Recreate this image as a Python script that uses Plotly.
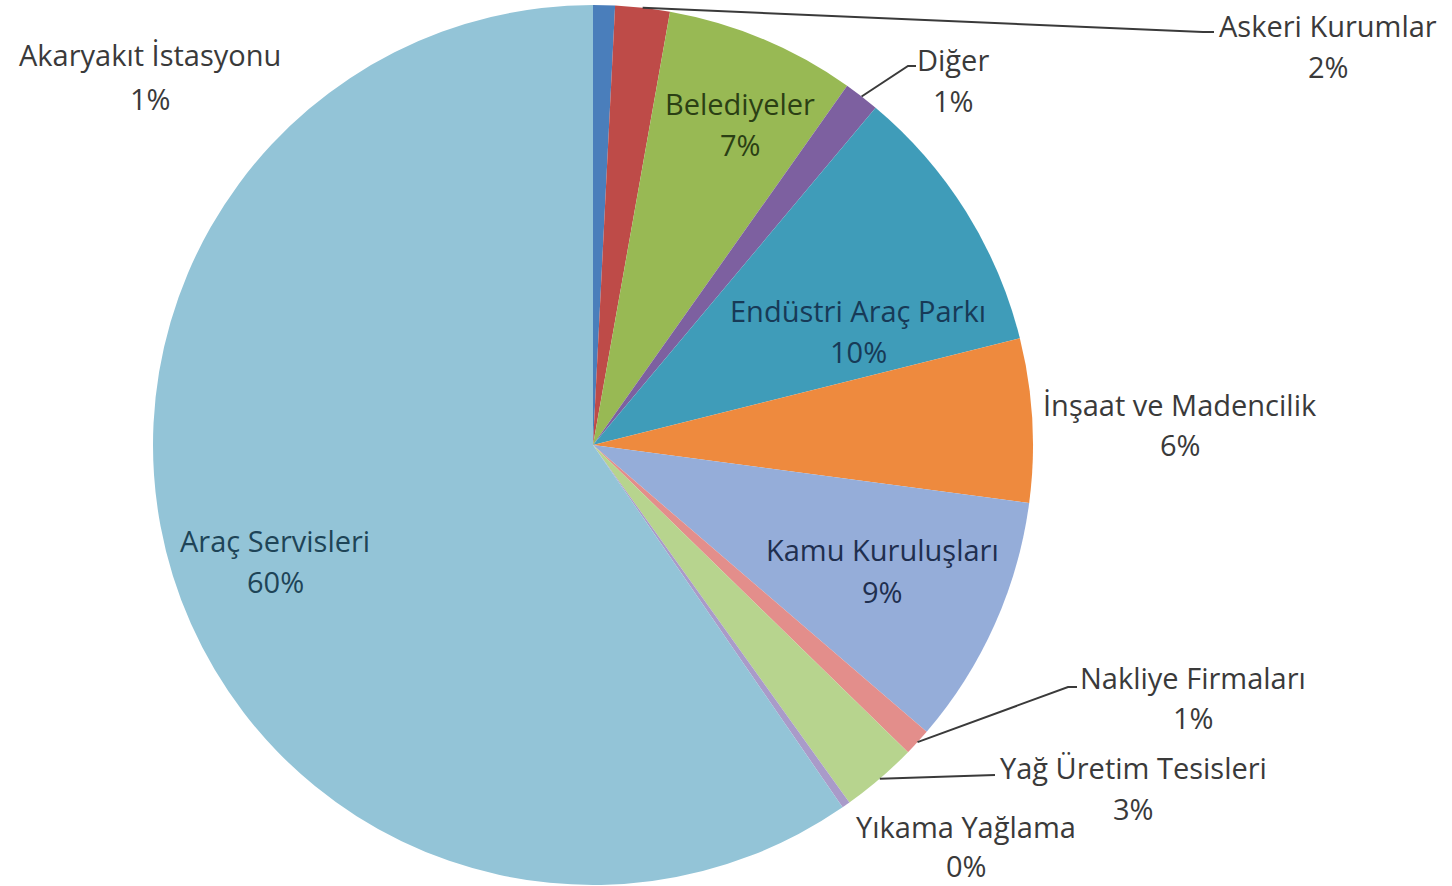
import math
import plotly.graph_objects as go

# ---- data ----
labels = ["Akaryakıt İstasyonu", "Askeri Kurumlar", "Belediyeler", "Diğer",
          "Endüstri Araç Parkı", "İnşaat ve Madencilik", "Kamu Kuruluşları",
          "Nakliye Firmaları", "Yağ Üretim Tesisleri", "Yıkama Yağlama",
          "Araç Servisleri"]
values = [0.8, 2.0, 7.0, 1.3, 10.0, 6.0, 9.2, 1.0, 2.8, 0.3, 59.6]
colors = ["#4A7EBB", "#BE4B48", "#98B954", "#7D60A0", "#3F9CB9", "#EE8A3E",
          "#95ADD9", "#E38E8B", "#B7D48E", "#A99BC9", "#93C4D7"]

# ---- layout (pixels) ----
W, H = 1452, 886
CX, CY, R = 593, 445, 440
# label block centre x, name-line y, percent-line y
label_pos = [(150, 55, 98), (1328, 25, 66), (740, 103, 144), (953, 60, 101),
             (858, 310, 351), (1180, 404, 445), (883, 549, 591),
             (1193, 677, 717), (1133, 767, 808), (966, 826, 865),
             (275, 540, 581)]
text_colors = ["#3a3a3a", "#3a3a3a", "#2B3F14", "#3a3a3a", "#173A57", "#3a3a3a",
               "#1F2F4F", "#3a3a3a", "#3a3a3a", "#3a3a3a", "#1E4457"]
# leader lines: slice index -> path points after the slice edge
leaders = {1: [(1203, 32), (1214, 32)],
           3: [(908, 66), (916, 66)],
           7: [(1068, 687), (1077, 687)],
           8: [(995, 775)]}

FONT = "Open Sans"
FS = 29


def px(x):
    return x / W


def py(y):
    return 1 - y / H


fig = go.Figure(go.Pie(
    labels=labels, values=values, sort=False, direction="clockwise",
    rotation=0, marker=dict(colors=colors, line=dict(width=0)),
    textinfo="none", hoverinfo="label+percent", showlegend=False,
    domain=dict(x=[(CX - R) / W, (CX + R) / W],
                y=[(H - CY - R) / H, (H - CY + R) / H]),
))

total = sum(values)
cum = 0.0
annotations = []
shapes = []
for i, (lab, v) in enumerate(zip(labels, values)):
    mid = (cum + v / 2) / total * 2 * math.pi
    cum += v
    ex = CX + R * math.sin(mid)
    ey = CY - R * math.cos(mid)
    x, y1, y2 = label_pos[i]
    pct = f"{round(v / total * 100):.0f}%"
    for txt, yy in ((lab, y1), (pct, y2)):
        annotations.append(dict(
            x=px(x), y=py(yy), xref="paper", yref="paper", text=txt,
            showarrow=False, xanchor="center", yanchor="middle",
            font=dict(family=FONT, size=FS, color=text_colors[i])))
    if i in leaders:
        pts = [(ex, ey)] + leaders[i]
        path = "M " + " L ".join(f"{px(a):.5f},{py(b):.5f}" for a, b in pts)
        shapes.append(dict(type="path", path=path, xref="paper", yref="paper",
                           line=dict(color="#3a3a3a", width=2)))

fig.update_layout(
    width=W, height=H, margin=dict(l=0, r=0, t=0, b=0),
    paper_bgcolor="white", plot_bgcolor="white",
    annotations=annotations, shapes=shapes,
)

fig.write_html("out.html",
               config={"displayModeBar": False},
               post_script="document.body.style.margin='0';"
                           "document.body.style.overflow='hidden';")
